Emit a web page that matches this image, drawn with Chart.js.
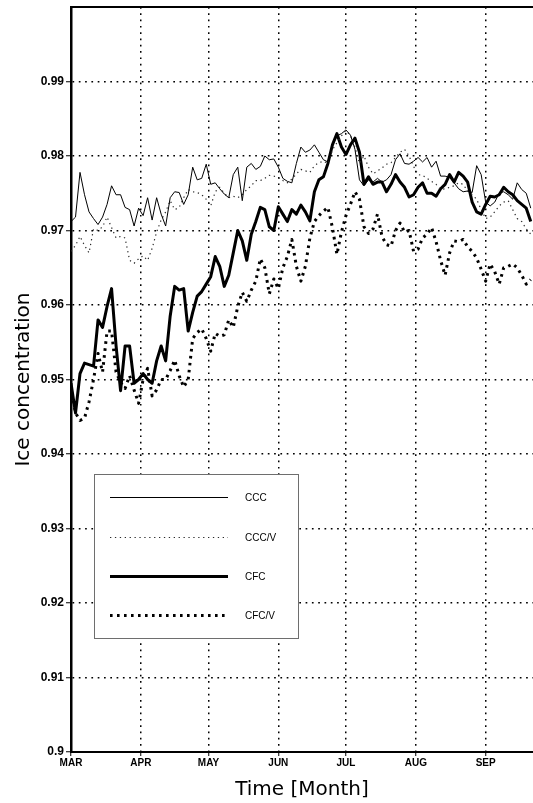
<!DOCTYPE html>
<html>
<head>
<meta charset="utf-8">
<script src="https://cdn.jsdelivr.net/npm/chart.js@4"></script>
<style>
  html, body { margin: 0; padding: 0; background: #fff; }
  canvas { display: block; }
</style>
</head>
<body>
<canvas id="chart" width="533" height="803"></canvas>
<script>
// Daily-run ice concentration, sampled every second day from 1 March
const FIRST_DAY = 0;
const DAY_STEP = 2;

// Day-of-season (0 = 1 March) where each month begins, and its label
const monthStarts = [0, 31, 61, 92, 122, 153, 184];
const monthLabels = ['MAR', 'APR', 'MAY', 'JUN', 'JUL', 'AUG', 'SEP'];

const ccc = [
  0.9712, 0.9718, 0.9778, 0.9748, 0.9725, 0.9716, 0.9708, 0.9718, 0.9735, 0.9760,
  0.9748, 0.9748, 0.9731, 0.9728, 0.9706, 0.9730, 0.9720, 0.9744, 0.9714, 0.9744,
  0.9722, 0.9706, 0.9744, 0.9752, 0.9751, 0.9735, 0.9748, 0.9785, 0.9768, 0.9770,
  0.9789, 0.9762, 0.9764, 0.9756, 0.9749, 0.9744, 0.9775, 0.9785, 0.9740, 0.9785,
  0.9790, 0.9782, 0.9786, 0.9800, 0.9795, 0.9796, 0.9785, 0.9770, 0.9766, 0.9764,
  0.9790, 0.9812, 0.9805, 0.9808, 0.9815, 0.9805, 0.9795, 0.9792, 0.9815, 0.9827,
  0.9830, 0.9835, 0.9828, 0.9809, 0.9768, 0.9760, 0.9768, 0.9765, 0.9770, 0.9765,
  0.9768, 0.9775, 0.9795, 0.9803, 0.9790, 0.9789, 0.9793, 0.9798, 0.9792, 0.9798,
  0.9785, 0.9793, 0.9773, 0.9773, 0.9771, 0.9764, 0.9756, 0.9752, 0.9753, 0.9751,
  0.9787, 0.9775, 0.9738, 0.9733, 0.9738, 0.9750, 0.9752, 0.9748, 0.9742, 0.9764,
  0.9755, 0.9750, 0.9730
];

const cccV = [
  0.9672, 0.9680, 0.9692, 0.9680, 0.9670, 0.9702, 0.9700, 0.9705, 0.9718, 0.9704,
  0.9690, 0.9692, 0.9690, 0.9660, 0.9656, 0.9662, 0.9666, 0.9660, 0.9676, 0.9698,
  0.9714, 0.9725, 0.9740, 0.9728, 0.9731, 0.9744, 0.9755, 0.9752, 0.9751, 0.9748,
  0.9742, 0.9733, 0.9752, 0.9758, 0.9750, 0.9744, 0.9746, 0.9744, 0.9748, 0.9755,
  0.9760, 0.9767, 0.9767, 0.9770, 0.9774, 0.9773, 0.9771, 0.9767, 0.9764, 0.9769,
  0.9776, 0.9782, 0.9780, 0.9778, 0.9787, 0.9791, 0.9793, 0.9790, 0.9808, 0.9818,
  0.9827, 0.9834, 0.9828, 0.9812, 0.9790, 0.9800, 0.9785, 0.9776, 0.9780, 0.9784,
  0.9789, 0.9791, 0.9798, 0.9805, 0.9809, 0.9800, 0.9786, 0.9775, 0.9774, 0.9770,
  0.9766, 0.9762, 0.9755, 0.9756, 0.9758, 0.9760, 0.9764, 0.9762, 0.9753, 0.9748,
  0.9742, 0.9728, 0.9716, 0.9718, 0.9725, 0.9733, 0.9738, 0.9740, 0.9728, 0.9716,
  0.9712, 0.9702, 0.9695
];

const cfc = [
  0.9495, 0.9455, 0.9508, 0.9522, 0.9520, 0.9518, 0.9580, 0.9570, 0.9598, 0.9622,
  0.9545, 0.9485, 0.9545, 0.9545, 0.9495, 0.9500, 0.9508, 0.9500, 0.9495, 0.9525,
  0.9545, 0.9525, 0.9585, 0.9625, 0.9620, 0.9622, 0.9565, 0.9590, 0.9612, 0.9618,
  0.9628, 0.9638, 0.9665, 0.9652, 0.9625, 0.9640, 0.9670, 0.9700, 0.9686, 0.9660,
  0.9695, 0.9712, 0.9731, 0.9728, 0.9705, 0.9700, 0.9732, 0.9722, 0.9712, 0.9728,
  0.9722, 0.9734, 0.9725, 0.9713, 0.9752, 0.9768, 0.9772, 0.9790, 0.9815, 0.9830,
  0.9812, 0.9802, 0.9815, 0.9824, 0.9805, 0.9762, 0.9772, 0.9762, 0.9765, 0.9765,
  0.9752, 0.9762, 0.9775, 0.9765, 0.9758, 0.9745, 0.9748, 0.9758, 0.9764, 0.9750,
  0.9750, 0.9746, 0.9756, 0.9762, 0.9775, 0.9765, 0.9778, 0.9773, 0.9765, 0.9738,
  0.9725, 0.9722, 0.9735, 0.9746, 0.9745, 0.9748, 0.9758, 0.9752, 0.9748, 0.9740,
  0.9735, 0.9730, 0.9712
];

const cfcV = [
  0.9490, 0.9455, 0.9445, 0.9448, 0.9470, 0.9500, 0.9535, 0.9510, 0.9565, 0.9565,
  0.9510, 0.9496, 0.9488, 0.9505, 0.9486, 0.9468, 0.9500, 0.9515, 0.9478, 0.9486,
  0.9500, 0.9500, 0.9512, 0.9526, 0.9505, 0.9490, 0.9500, 0.9555, 0.9563, 0.9568,
  0.9555, 0.9538, 0.9562, 0.9558, 0.9560, 0.9580, 0.9570, 0.9598, 0.9617, 0.9605,
  0.9620, 0.9632, 0.9662, 0.9650, 0.9615, 0.9635, 0.9622, 0.9650, 0.9665, 0.9688,
  0.9652, 0.9632, 0.9652, 0.9690, 0.9712, 0.9720, 0.9726, 0.9731, 0.9704, 0.9668,
  0.9698, 0.9720, 0.9735, 0.9752, 0.9742, 0.9705, 0.9696, 0.9702, 0.9722, 0.9692,
  0.9681, 0.9679, 0.9700, 0.9710, 0.9698, 0.9700, 0.9672, 0.9675, 0.9690, 0.9695,
  0.9704, 0.9685, 0.9660, 0.9640, 0.9670, 0.9686, 0.9685, 0.9688, 0.9678, 0.9672,
  0.9663, 0.9648, 0.9632, 0.9655, 0.9645, 0.9628, 0.9650, 0.9652, 0.9655, 0.9650,
  0.9640, 0.9628, 0.9634
];

const days = ccc.map((_, i) => FIRST_DAY + i * DAY_STEP);
const toPoints = vals => vals.map((v, i) => ({ x: days[i], y: v }));

const Y_MIN = 0.9, Y_MAX = 1.0, Y_STEP = 0.01;
const X_MIN = 0, X_MAX = 205;

const isEdge = v => Math.abs(v - Y_MIN) < 1e-6 || Math.abs(v - Y_MAX) < 1e-6;

// Boxed legend in the lower-left part of the plot
const boxLegend = {
  id: 'boxLegend',
  afterDatasetsDraw(chart) {
    const ctx = chart.ctx;
    const box = { x: 94.5, y: 474.5, w: 204, h: 164 };
    const rows = [497, 537, 576, 615];
    ctx.save();
    ctx.fillStyle = '#fff';
    ctx.fillRect(box.x, box.y, box.w, box.h);
    ctx.strokeStyle = '#6e6e6e';
    ctx.lineWidth = 1;
    ctx.setLineDash([]);
    ctx.strokeRect(box.x, box.y, box.w, box.h);
    chart.data.datasets.forEach((ds, i) => {
      ctx.beginPath();
      ctx.setLineDash(ds.borderDash || []);
      ctx.lineWidth = ds.borderWidth;
      ctx.strokeStyle = ds.borderColor;
      ctx.moveTo(110, rows[i] + 0.5);
      ctx.lineTo(228, rows[i] + 0.5);
      ctx.stroke();
      ctx.setLineDash([]);
      ctx.fillStyle = '#000';
      ctx.font = '10px "Liberation Sans", Arial, sans-serif';
      ctx.textBaseline = 'middle';
      ctx.textAlign = 'left';
      ctx.fillText(ds.label, 245, rows[i] + 1);
    });
    ctx.restore();
  }
};

// Solid top edge of the frame
const topFrame = {
  id: 'topFrame',
  afterDraw(chart) {
    const { ctx, chartArea } = chart;
    ctx.save();
    ctx.strokeStyle = '#000';
    ctx.lineWidth = 2;
    ctx.beginPath();
    ctx.moveTo(chartArea.left - 1, chartArea.top);
    ctx.lineTo(chartArea.right, chartArea.top);
    ctx.stroke();
    ctx.restore();
  }
};

new Chart(document.getElementById('chart'), {
  type: 'line',
  data: {
    datasets: [
      { label: 'CCC', data: toPoints(ccc), borderColor: '#000', borderWidth: 1, borderDash: [] },
      { label: 'CCC/V', data: toPoints(cccV), borderColor: '#2a2a2a', borderWidth: 1.2, borderDash: [1.3, 3.6] },
      { label: 'CFC', data: toPoints(cfc), borderColor: '#000', borderWidth: 3, borderDash: [] },
      { label: 'CFC/V', data: toPoints(cfcV), borderColor: '#000', borderWidth: 3, borderDash: [2.6, 4.4] }
    ]
  },
  options: {
    responsive: false,
    animation: false,
    devicePixelRatio: 1,
    layout: { padding: { top: 7, right: 0, left: 0, bottom: 0 } },
    elements: {
      point: { radius: 0, hoverRadius: 0 },
      line: { tension: 0, fill: false, borderCapStyle: 'butt', borderJoinStyle: 'round' }
    },
    plugins: {
      legend: { display: false },
      tooltip: { enabled: false }
    },
    scales: {
      x: {
        type: 'linear',
        min: X_MIN,
        max: X_MAX,
        afterBuildTicks(scale) {
          scale.ticks = monthStarts.map(v => ({ value: v }));
        },
        afterFit(scale) {
          scale.height = 51;
          scale.paddingLeft = 0;
          scale.paddingRight = 0;
        },
        ticks: {
          autoSkip: false,
          maxRotation: 0,
          padding: 1,
          color: '#000',
          font: { family: '"Liberation Sans", Arial, sans-serif', size: 10, weight: 'bold' },
          callback: (value, index) => monthLabels[index]
        },
        grid: {
          color: ctx => (ctx.tick && ctx.tick.value === monthStarts[0]) ? 'rgba(0,0,0,0)' : '#000',
          lineWidth: 1.5,
          tickColor: '#000',
          tickLength: 4,
          tickWidth: 1,
          tickBorderDash: []
        },
        border: { display: true, color: '#000', width: 2, dash: [1.7, 4.6] },
        title: {
          display: true,
          text: 'Time [Month]',
          color: '#000',
          font: { family: '"DejaVu Sans", sans-serif', size: 20, weight: 'normal' },
          padding: { top: 0, bottom: 1 }
        }
      },
      y: {
        type: 'linear',
        min: Y_MIN,
        max: Y_MAX,
        afterFit(scale) {
          scale.width = 71;
          scale.paddingTop = 0;
          scale.paddingBottom = 0;
        },
        ticks: {
          stepSize: Y_STEP,
          padding: 2,
          color: '#000',
          font: { family: '"Liberation Sans", Arial, sans-serif', size: 12, weight: 'bold' },
          callback: value => Math.abs(value - Y_MAX) < 1e-6 ? '' : String(Math.round(value * 100) / 100)
        },
        grid: {
          color: ctx => (ctx.tick && isEdge(ctx.tick.value)) ? 'rgba(0,0,0,0)' : '#000',
          lineWidth: 1.5,
          tickColor: ctx => (ctx.tick && Math.abs(ctx.tick.value - Y_MAX) < 1e-6) ? 'rgba(0,0,0,0)' : '#000',
          tickLength: 5,
          tickWidth: 1,
          tickBorderDash: []
        },
        border: { display: true, color: '#000', width: 2.5, dash: [1.7, 4.6] },
        title: {
          display: true,
          text: 'Ice concentration',
          color: '#000',
          font: { family: '"DejaVu Sans", sans-serif', size: 20, weight: 'normal' },
          padding: { top: 12, bottom: 0 }
        }
      }
    }
  },
  plugins: [boxLegend, topFrame]
});
</script>
</body>
</html>
